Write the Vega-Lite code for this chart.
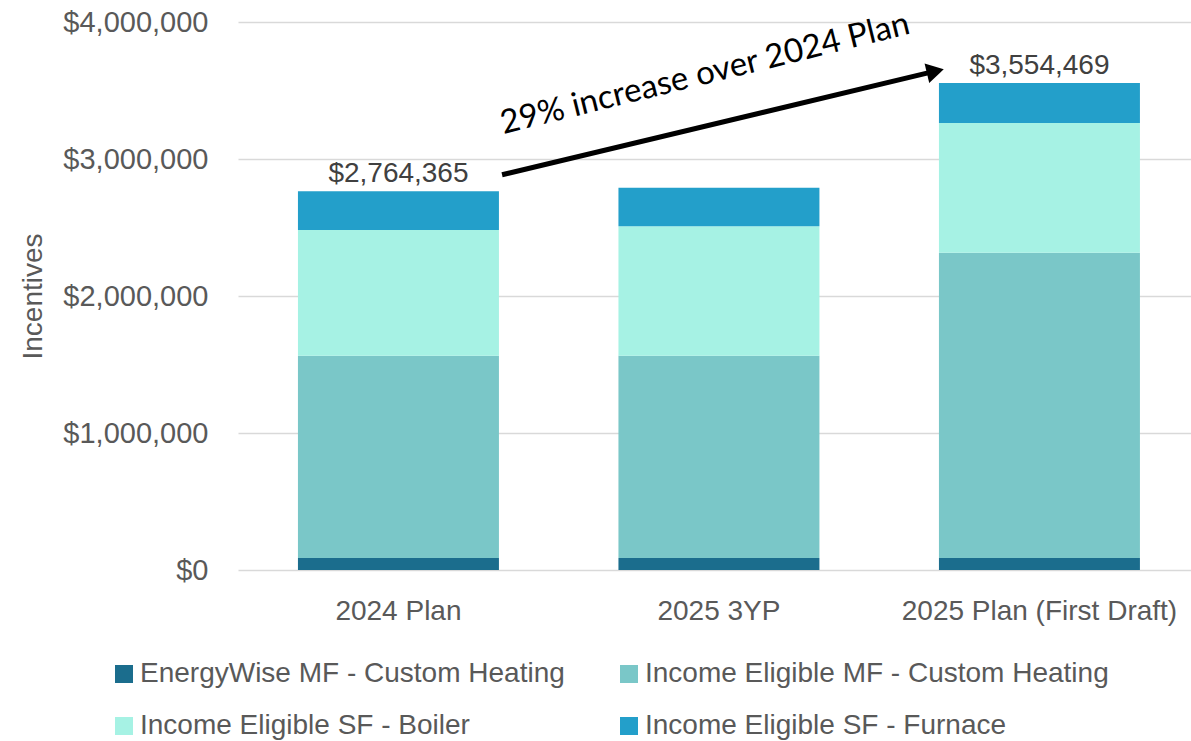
{
  "$schema": "https://vega.github.io/schema/vega-lite/v6.json",
  "width": 953,
  "height": 548,
  "autosize": {"type": "none"},
  "padding": {"left": 238, "top": 22, "right": 0, "bottom": 171},
  "background": "white",
  "config": {
    "view": {"stroke": null},
    "font": "Liberation Sans"
  },
  "datasets": {
    "segments": [
      {"bar": "2024 Plan", "series": "EnergyWise MF - Custom Heating", "value": 88000},
      {"bar": "2024 Plan", "series": "Income Eligible MF - Custom Heating", "value": 1476000},
      {"bar": "2024 Plan", "series": "Income Eligible SF - Boiler", "value": 918000},
      {"bar": "2024 Plan", "series": "Income Eligible SF - Furnace", "value": 282365},
      {"bar": "2025 3YP", "series": "EnergyWise MF - Custom Heating", "value": 88000},
      {"bar": "2025 3YP", "series": "Income Eligible MF - Custom Heating", "value": 1476000},
      {"bar": "2025 3YP", "series": "Income Eligible SF - Boiler", "value": 945000},
      {"bar": "2025 3YP", "series": "Income Eligible SF - Furnace", "value": 281000},
      {"bar": "2025 Plan (First Draft)", "series": "EnergyWise MF - Custom Heating", "value": 88000},
      {"bar": "2025 Plan (First Draft)", "series": "Income Eligible MF - Custom Heating", "value": 2228000},
      {"bar": "2025 Plan (First Draft)", "series": "Income Eligible SF - Boiler", "value": 947000},
      {"bar": "2025 Plan (First Draft)", "series": "Income Eligible SF - Furnace", "value": 291469}
    ],
    "arrow": [
      {"from": "2024 Plan", "to": "2025 Plan (First Draft)", "y1": 2885000, "y2": 3641000}
    ],
    "note": [
      {"bar": "2025 3YP", "value": 3550000, "text": "29% increase over 2024 Plan"}
    ]
  },
  "layer": [
    {
      "data": {"name": "segments"},
      "mark": {"type": "bar"},
      "encoding": {
        "x": {
          "field": "bar",
          "type": "nominal",
          "title": null,
          "scale": {"paddingInner": 0.3729, "paddingOuter": 0.1732, "align": 0.54},
          "axis": {
            "title": null,
            "domain": false,
            "ticks": false,
            "grid": false,
            "labelAngle": 0,
            "labelPadding": 27,
            "labelFontSize": 28,
            "labelFont": "Liberation Sans",
            "labelColor": "#595959",
            "labelLimit": 0
          }
        },
        "y": {
          "field": "value",
          "type": "quantitative",
          "stack": "zero",
          "title": "Incentives",
          "scale": {"domain": [0, 4000000], "nice": false},
          "axis": {
            "values": [0, 1000000, 2000000, 3000000, 4000000],
            "format": "$,.0f",
            "title": "Incentives",
            "domain": false,
            "ticks": false,
            "tickSize": 0,
            "labelPadding": 30,
            "gridColor": "#d9d9d9",
            "gridWidth": 1.6,
            "labelFontSize": 29,
            "labelFont": "Liberation Sans",
            "labelColor": "#595959",
            "titleFontSize": 28,
            "titleFont": "Liberation Sans",
            "titleFontWeight": "normal",
            "titleColor": "#595959",
            "titlePadding": 15
          }
        },
        "color": {
          "field": "series",
          "type": "nominal",
          "scale": {
            "domain": ["EnergyWise MF - Custom Heating", "Income Eligible MF - Custom Heating", "Income Eligible SF - Boiler", "Income Eligible SF - Furnace"],
            "range": ["#1b6d8d", "#7ac7c8", "#a6f2e4", "#239fca"]
          },
          "legend": {
            "title": null,
            "orient": "none",
            "legendX": -128,
            "legendY": 638,
            "direction": "horizontal",
            "columns": 2,
            "padding": 0,
            "symbolType": "square",
            "symbolSize": 324,
            "symbolStrokeWidth": 0,
            "symbolOpacity": 1,
            "labelFontSize": 28,
            "labelFont": "Liberation Sans",
            "labelColor": "#595959",
            "labelOffset": 2,
            "labelLimit": 0,
            "columnPadding": 50,
            "rowPadding": 24
          }
        },
        "order": {"field": "series", "type": "ordinal", "sort": "ascending"}
      }
    },
    {
      "data": {"name": "segments"},
      "transform": [
        {"aggregate": [{"op": "sum", "field": "value", "as": "total"}], "groupby": ["bar"]},
        {"filter": "datum.bar !== '2025 3YP'"}
      ],
      "mark": {"type": "text", "dy": -9, "baseline": "alphabetic", "align": "center", "fontSize": 28, "font": "Liberation Sans", "color": "#404040"},
      "encoding": {
        "x": {"field": "bar", "type": "nominal", "title": null},
        "y": {"field": "total", "type": "quantitative", "title": "Incentives"},
        "text": {"field": "total", "type": "quantitative", "format": "$,.0f"}
      }
    },
    {
      "data": {"name": "arrow"},
      "mark": {"type": "rule", "strokeWidth": 5, "color": "black", "strokeCap": "butt"},
      "encoding": {
        "x": {"field": "from", "type": "nominal", "bandPosition": 1.0155, "title": null},
        "x2": {"field": "to", "bandPosition": -0.018},
        "y": {"field": "y1", "type": "quantitative", "title": "Incentives"},
        "y2": {"field": "y2"}
      }
    },
    {
      "data": {"name": "arrow"},
      "mark": {"type": "point", "shape": "triangle-right", "size": 400, "filled": true, "opacity": 1, "color": "black", "strokeWidth": 0, "angle": -13.4},
      "encoding": {
        "x": {"field": "to", "type": "nominal", "bandPosition": -0.018, "title": null},
        "y": {"field": "y2", "type": "quantitative", "title": "Incentives"}
      }
    },
    {
      "data": {"name": "note"},
      "mark": {"type": "text", "angle": -13.85, "font": "Lato", "fontSize": 33, "color": "black", "baseline": "alphabetic", "align": "center"},
      "encoding": {
        "x": {"field": "bar", "type": "nominal", "bandPosition": 0.443, "title": null},
        "y": {"field": "value", "type": "quantitative", "title": "Incentives"},
        "text": {"field": "text"}
      }
    }
  ]
}
